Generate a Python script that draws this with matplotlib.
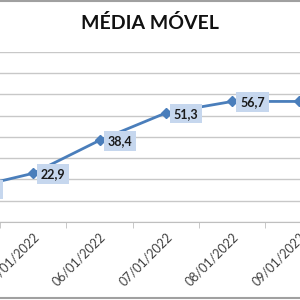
import matplotlib
matplotlib.use("Agg")
import matplotlib.pyplot as plt
import numpy as np

# data (left part of the chart is cropped away)
dates = ["04/01/2022", "05/01/2022", "06/01/2022", "07/01/2022", "08/01/2022", "09/01/2022"]
values = [15.5, 22.9, 38.4, 51.3, 56.7, 56.7]
labels = ["15,5", "22,9", "38,4", "51,3", "56,7", "56,7"]

blue = "#4a7ebb"

fig = plt.figure(figsize=(3, 3), dpi=100)
ax = fig.add_axes([0, 0.26, 1, 0.567])

x = np.arange(len(dates))
ax.plot(x, values, color=blue, lw=2, marker="D", ms=5, mfc=blue, mec=blue, zorder=3)

for xi, v, lab in zip(x, values, labels):
    ax.annotate(lab, (xi, v), xytext=(14.5, -0.5), textcoords="offset points",
                ha="center", va="center", fontsize=9, fontweight="bold",
                color="#1a1a1a", family="Lato",
                bbox=dict(boxstyle="square,pad=0.3", fc="#c6d7ee", ec="none"),
                zorder=4, annotation_clip=False)

ax.set_yticks(np.arange(0, 81, 10))
ax.yaxis.grid(True, color="#c8c8c8", lw=1)
ax.set_axisbelow(True)
ax.tick_params(axis="y", left=False, labelleft=False)

ax.set_xticks(x)
ax.set_xticklabels(dates, rotation=45, ha="right", rotation_mode="anchor",
                   fontsize=9, color="#404040", family="Lato")
ax.set_xticks(x[:-1] + 0.5, minor=True)
ax.tick_params(axis="x", which="major", length=0, pad=6)
ax.tick_params(axis="x", which="minor", length=4, color="#bfbfbf")

# limits after ticks so they are not widened again
ax.set_xlim(0.5, 5.02)
ax.set_ylim(0, 80)

for side in ["top", "left", "right"]:
    ax.spines[side].set_visible(False)
ax.spines["bottom"].set_color("#bfbfbf")

fig.text(0.5, 0.923, "MÉDIA MÓVEL", ha="center", va="center",
         fontsize=14, fontweight="bold", family="Lato", color="#111111")

# chart border lines at top and bottom of the crop
fig.add_artist(plt.Line2D([0, 1], [0.996, 0.996], color="#a0a0a0", lw=1.5))
fig.add_artist(plt.Line2D([0, 1], [0.006, 0.006], color="#a0a0a0", lw=1.5))

fig.savefig("out.png", dpi=100)
